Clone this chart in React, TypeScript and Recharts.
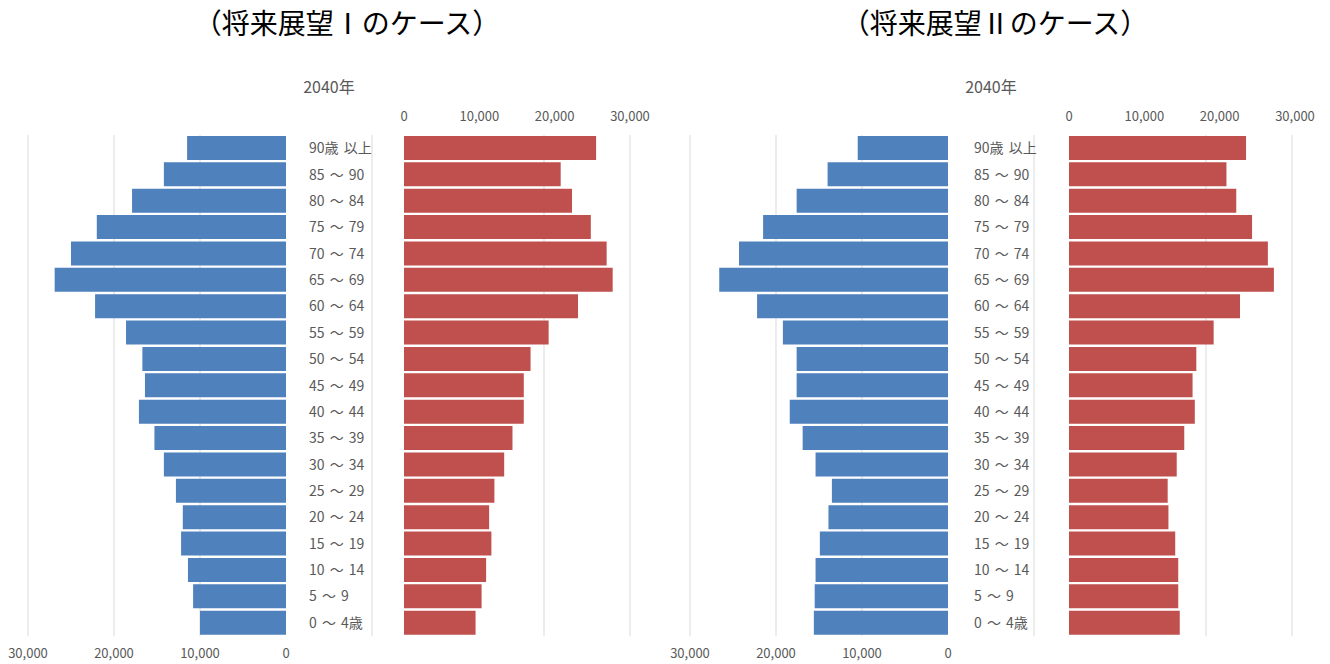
import React from "react";
import { BarChart, Bar, XAxis, YAxis, CartesianGrid } from "recharts";

const AGES = [
  "90歳 以上", "85 ～ 90", "80 ～ 84", "75 ～ 79", "70 ～ 74", "65 ～ 69", "60 ～ 64",
  "55 ～ 59", "50 ～ 54", "45 ～ 49", "40 ～ 44", "35 ～ 39", "30 ～ 34", "25 ～ 29",
  "20 ～ 24", "15 ～ 19", "10 ～ 14", "5 ～ 9", "0 ～ 4歳",
];

// 将来展望Ⅰ
const MALE_1 = [11500, 14200, 17900, 22000, 25000, 26900, 22200, 18600, 16700, 16400, 17100, 15300, 14200, 12800, 12000, 12200, 11400, 10800, 10000];
const FEMALE_1 = [25500, 20800, 22300, 24800, 26900, 27700, 23100, 19200, 16800, 15900, 15900, 14400, 13300, 12000, 11300, 11600, 10900, 10300, 9500];

// 将来展望Ⅱ
const MALE_2 = [10500, 14000, 17600, 21500, 24300, 26600, 22200, 19200, 17600, 17600, 18400, 16900, 15400, 13500, 13900, 14900, 15400, 15500, 15600];
const FEMALE_2 = [23500, 20900, 22200, 24300, 26400, 27200, 22700, 19200, 16900, 16400, 16700, 15300, 14300, 13100, 13200, 14100, 14500, 14500, 14700];

const TICKS = [0, 10000, 20000, 30000];
const YEAR = "2040年";

const GRAY = "#595959";
const GRID = "#d9d9d9";
const FONT = "'Noto Sans CJK JP', sans-serif";

const fmt = (v: number) => v.toLocaleString("en-US");

function toRows(values: number[]) {
  return AGES.map((age, i) => ({ age, v: values[i] }));
}

function AgeTick({ x, y, payload }: any) {
  return (
    <text x={x - 95} y={y} dy={5} textAnchor="start" fill={GRAY} fontSize={14} fontFamily={FONT} wordSpacing={2}>
      {payload.value}
    </text>
  );
}

function Panel({ title, titleX, male, female, maleLeft, femaleLeft, yearX }: any) {
  return (
    <>
      <div style={{ position: "absolute", left: titleX - 200, top: 2, width: 400, textAlign: "center", fontSize: 28, color: "#000", fontFamily: FONT }}>
        {title}
      </div>
      <div style={{ position: "absolute", left: yearX - 60, top: 74, width: 120, textAlign: "center", fontSize: 16, color: GRAY, fontFamily: FONT }}>
        {YEAR}
      </div>
      <div style={{ position: "absolute", left: maleLeft, top: 0 }}>
        <BarChart layout="vertical" width={700} height={664} data={toRows(male)}
          margin={{ top: 135, right: 70, left: 28, bottom: 0 }} barCategoryGap={1}>
          <CartesianGrid horizontal={false} verticalValues={[30000, 20000, 10000, -10000, -30000, -40000]} stroke={GRID} />
          <XAxis type="number" domain={[-40000, 30000]} reversed ticks={TICKS} tickFormatter={fmt}
            axisLine={false} tickLine={false} height={28} tickMargin={7} interval={0}
            tick={{ fill: GRAY, fontSize: 13, fontFamily: FONT }} />
          <YAxis type="category" dataKey="age" hide />
          <Bar dataKey="v" fill="#4F81BD" isAnimationActive={false} />
        </BarChart>
      </div>
      <div style={{ position: "absolute", left: femaleLeft, top: 0 }}>
        <BarChart layout="vertical" width={369} height={664} data={toRows(female)}
          margin={{ top: 105, right: 25, left: 0, bottom: 28 }} barCategoryGap={1}>
          <XAxis type="number" orientation="top" domain={[0, 30000]} ticks={TICKS} tickFormatter={fmt}
            axisLine={false} tickLine={false} height={30} tickMargin={8} interval={0}
            tick={{ fill: GRAY, fontSize: 13, fontFamily: FONT }} />
          <YAxis type="category" dataKey="age" width={118} axisLine={false} tickLine={false}
            tickSize={0} tickMargin={0} interval={0} tick={<AgeTick />} />
          <Bar dataKey="v" fill="#C0504D" isAnimationActive={false} />
        </BarChart>
      </div>
    </>
  );
}

export default function App() {
  return (
    <div style={{ position: "absolute", left: 0, top: 0, width: 1330, height: 664, background: "#fff", fontFamily: FONT }}>
      <Panel title="（将来展望Ⅰのケース）" titleX={347} male={MALE_1} female={FEMALE_1} maleLeft={0} femaleLeft={286} yearX={329} />
      <Panel title="（将来展望Ⅱのケース）" titleX={995} male={MALE_2} female={FEMALE_2} maleLeft={662} femaleLeft={951} yearX={991} />
    </div>
  );
}
